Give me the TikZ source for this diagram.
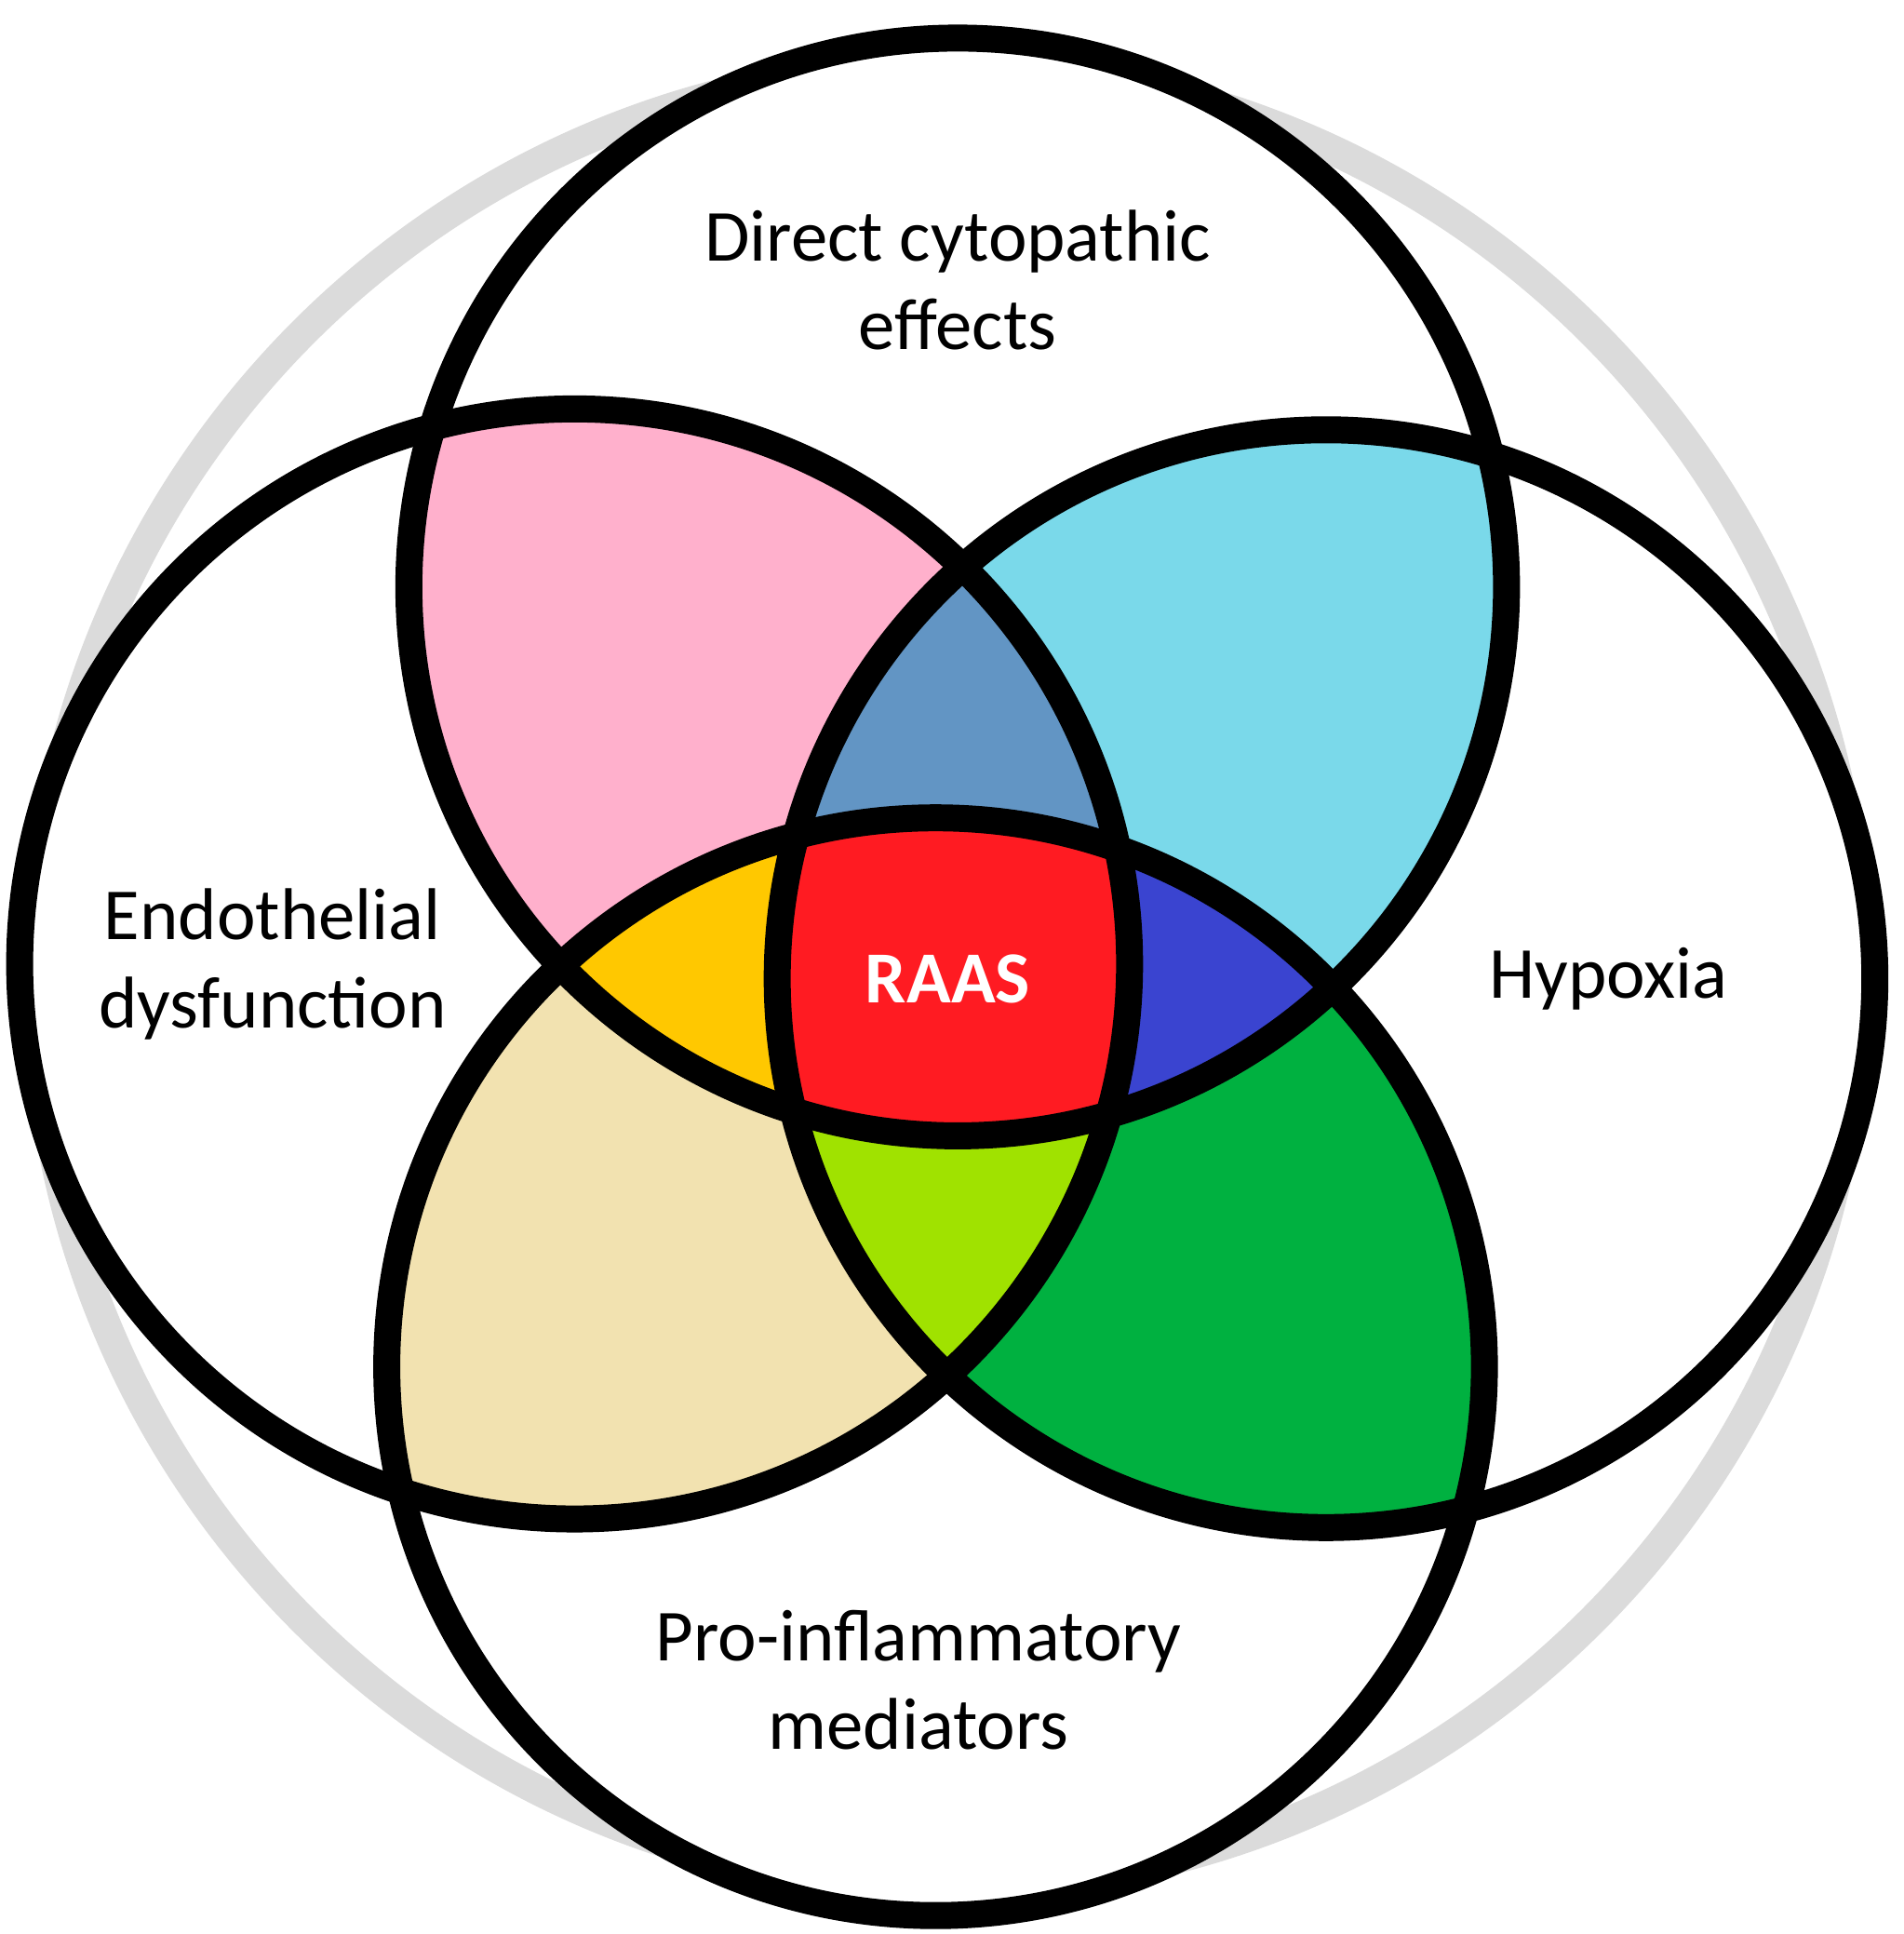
\documentclass[tikz,border=0pt]{standalone}
\usepackage{fontspec}
\setmainfont{Carlito}
\begin{document}
\begin{tikzpicture}[x=0.02cm,y=-0.02cm,
  ring/.style={line width=12.5pt,draw=black},
  lbl/.style={align=center,font=\fontsize{34}{41}\selectfont}]
\useasboundingbox (0,0) rectangle (1550,1575);
\def\T{(780,478) circle[radius=447]}
\def\L{(468,785) circle[radius=452]}
\def\R{(1080,797) circle[radius=447]}
\def\B{(762,1113) circle[radius=447]}
\draw[line width=14pt,color=black!14] (772,795) circle[radius=742];
\fill[white] \T; \fill[white] \L; \fill[white] \R; \fill[white] \B;
% pairs
\begin{scope}\clip \T; \fill[color={rgb,255:red,255;green,176;blue,204}] \L; \end{scope}
\begin{scope}\clip \T; \fill[color={rgb,255:red,122;green,217;blue,234}] \R; \end{scope}
\begin{scope}\clip \L; \fill[color={rgb,255:red,242;green,226;blue,176}] \B; \end{scope}
\begin{scope}\clip \R; \fill[color={rgb,255:red,0;green,177;blue,64}] \B; \end{scope}
% triples
\begin{scope}\clip \T; \clip \L; \fill[color={rgb,255:red,98;green,149;blue,196}] \R; \end{scope}
\begin{scope}\clip \T; \clip \L; \fill[color={rgb,255:red,255;green,200;blue,0}] \B; \end{scope}
\begin{scope}\clip \T; \clip \R; \fill[color={rgb,255:red,58;green,68;blue,208}] \B; \end{scope}
\begin{scope}\clip \L; \clip \R; \fill[color={rgb,255:red,160;green,226;blue,0}] \B; \end{scope}
% all four
\begin{scope}\clip \T; \clip \L; \clip \R; \fill[color={rgb,255:red,255;green,27;blue,34}] \B; \end{scope}
\draw[ring] \T; \draw[ring] \L; \draw[ring] \R; \draw[ring] \B;
\node[lbl] (dc) at (780,228) {Direct cytopathic\\effects};
\node[lbl] (ed) at (222,785) {Endothelial\\dysfunction};
\node[lbl] (hy) at (1310,797) {Hypoxia};
\node[lbl] (pi) at (748,1368) {Pro-inflammatory\\mediators};
\node[lbl,text=white,font=\fontsize{34}{41}\selectfont\bfseries] (ra) at (772,797) {RAAS};
\end{tikzpicture}
\end{document}
